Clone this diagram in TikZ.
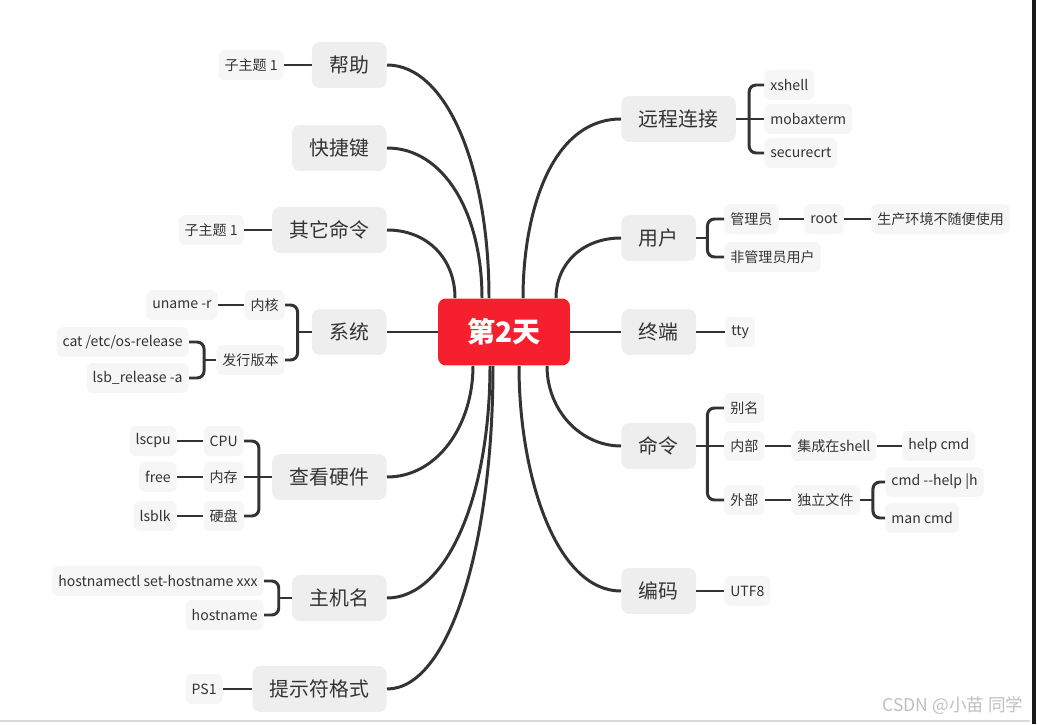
\documentclass[tikz,border=0pt]{standalone}
\usepackage{fontspec}
\setmainfont{Noto Sans CJK SC}
\usepackage{xcolor}
\usepackage{tikz}
\usetikzlibrary{positioning,calc}
\definecolor{rootred}{HTML}{F61F2E}
\definecolor{topicgray}{HTML}{EEEEEE}
\definecolor{subgray}{HTML}{F6F6F6}
\definecolor{ink}{HTML}{333333}
\tikzset{
  topic/.style={fill=topicgray,rounded corners=4.5pt,text=ink,font=\fontsize{11.3}{13}\selectfont,minimum height=0.92cm,inner xsep=0.35cm},
  sub/.style={fill=subgray,rounded corners=3.5pt,text=ink,font=\fontsize{8}{10}\selectfont,minimum height=0.6cm,inner xsep=0.12cm},
  rootbox/.style={fill=rootred,rounded corners=4.5pt,text=white,font=\fontsize{16}{19}\selectfont\bfseries,minimum width=2.64cm,minimum height=1.34cm},
  link/.style={draw=ink,line width=1.7pt},
  br/.style={link,rounded corners=4pt},
}

\begin{document}
\begin{tikzpicture}[x=0.02cm,y=0.02cm]
\useasboundingbox (0,0) rectangle (1037,724);
\draw[gray!30,line width=1pt] (0,3) -- (1030,3);
\draw[black!90,line width=2pt] (1034,0) -- (1034,724);
\node[text=gray!50,font=\fontsize{10}{12}\selectfont] (mark) at (953,18) {CSDN @小苗 同学};

% center
\node[rootbox] (day) at (504,392) {第2天};

% left topics
\node[topic,anchor=east] (help) at (387,659) {帮助};
\node[topic,anchor=east] (keys) at (387,576) {快捷键};
\node[topic,anchor=east] (othercmd) at (387,494) {其它命令};
\node[topic,anchor=east] (sys) at (387,392) {系统};
\node[topic,anchor=east] (hw) at (387,247) {查看硬件};
\node[topic,anchor=east] (host) at (387,126) {主机名};
\node[topic,anchor=east] (ps) at (387,35) {提示符格式};

% right topics
\node[topic,anchor=west] (remote) at (621,605) {远程连接};
\node[topic,anchor=west] (user) at (621,486) {用户};
\node[topic,anchor=west] (term) at (621,392) {终端};
\node[topic,anchor=west] (cmd) at (621,278) {命令};
\node[topic,anchor=west] (enc) at (621,133) {编码};

% main branches
\draw[link] ($(day.north)+(-15,0)$) .. controls +(0,130) and +(60,0) .. (help.east);
\draw[link] ($(day.north)+(-22,0)$) .. controls +(0,85) and +(57,0) .. (keys.east);
\draw[link] ($(day.north)+(-49,0)$) .. controls +(0,40) and +(40,0) .. (othercmd.east);
\draw[link] (day.west) -- (sys.east);
\draw[link] ($(day.south)+(-31,0)$) .. controls +(0,-60) and +(50,0) .. (hw.east);
\draw[link] ($(day.south)+(-14,0)$) .. controls +(0,-130) and +(60,0) .. (host.east);
\draw[link] ($(day.south)+(-11,0)$) .. controls +(0,-180) and +(62,0) .. (ps.east);
\draw[link] ($(day.north)+(19,0)$) .. controls +(0,85) and +(-70,0) .. (remote.west);
\draw[link] ($(day.north)+(52,0)$) .. controls +(0,35) and +(-38,0) .. (user.west);
\draw[link] (day.east) -- (term.west);
\draw[link] ($(day.south)+(43,0)$) .. controls +(0,-45) and +(-40,0) .. (cmd.west);
\draw[link] ($(day.south)+(15,0)$) .. controls +(0,-110) and +(-65,0) .. (enc.west);

% left details
\node[sub,anchor=east] (help1) at (284,659) {子主题 1};
\draw[link] (help1.east) -- (help.west);
\node[sub,anchor=east] (other1) at (244,494) {子主题 1};
\draw[link] (other1.east) -- (othercmd.west);

\node[sub,anchor=east] (kernel) at (285,419) {内核};
\node[sub,anchor=east] (release) at (285,364) {发行版本};
\coordinate (sysb) at ($(sys.west)+(-14,0)$);
\draw[br] (kernel.east) -| (sysb) |- (release.east);
\draw[link] (sys.west) -- (sysb);
\node[sub,anchor=east] (uname) at (218,419) {uname -r};
\draw[link] (uname.east) -- (kernel.west);
\node[sub,anchor=east] (osrel) at (189,382) {cat /etc/os-release};
\node[sub,anchor=east] (lsb) at (189,346) {lsb\_release -a};
\coordinate (relb) at ($(release.west)+(-12,0)$);
\draw[br] (osrel.east) -| (relb) |- (lsb.east);
\draw[link] (release.west) -- (relb);

\node[sub,anchor=east] (cpu) at (244,283) {CPU};
\node[sub,anchor=east] (mem) at (244,247) {内存};
\node[sub,anchor=east] (disk) at (244,208) {硬盘};
\coordinate (hwb) at ($(hw.west)+(-13,0)$);
\draw[br] (cpu.east) -| (hwb) |- (disk.east);
\draw[link] (hw.west) -- (mem.east);
\node[sub,anchor=east] (lscpu) at (177,283) {lscpu};
\node[sub,anchor=east] (free) at (177,247) {free};
\node[sub,anchor=east] (lsblk) at (177,208) {lsblk};
\draw[link] (lscpu.east) -- (cpu.west);
\draw[link] (free.east) -- (mem.west);
\draw[link] (lsblk.east) -- (disk.west);

\node[sub,anchor=east] (hostctl) at (264,143) {hostnamectl set-hostname xxx};
\node[sub,anchor=east] (hostname) at (264,109) {hostname};
\coordinate (hostb) at ($(host.west)+(-13,0)$);
\draw[br] (hostctl.east) -| (hostb) |- (hostname.east);
\draw[link] (host.west) -- (hostb);

\node[sub,anchor=east] (ps1) at (223,35) {PS1};
\draw[link] (ps1.east) -- (ps.west);

% right details
\node[sub,anchor=west] (xshell) at (764,639) {xshell};
\node[sub,anchor=west] (mobax) at (764,605) {mobaxterm};
\node[sub,anchor=west] (securecrt) at (764,571) {securecrt};
\coordinate (remb) at ($(remote.east)+(13,0)$);
\draw[br] (xshell.west) -| (remb) |- (securecrt.west);
\draw[link] (remote.east) -- (mobax.west);

\node[sub,anchor=west] (admin) at (724,505) {管理员};
\node[sub,anchor=west] (nonadmin) at (724,467) {非管理员用户};
\coordinate (userb) at ($(user.east)+(11,0)$);
\draw[br] (admin.west) -| (userb) |- (nonadmin.west);
\draw[link] (user.east) -- (userb);
\node[sub,anchor=west] (rootuser) at (804,505) {root};
\node[sub,anchor=west] (prod) at (871,505) {生产环境不随便使用};
\draw[link] (admin.east) -- (rootuser.west);
\draw[link] (rootuser.east) -- (prod.west);

\node[sub,anchor=west] (tty) at (725,392) {tty};
\draw[link] (term.east) -- (tty.west);

\node[sub,anchor=west] (alias) at (724,316) {别名};
\node[sub,anchor=west] (inner) at (724,278) {内部};
\node[sub,anchor=west] (outer) at (724,224) {外部};
\coordinate (cmdb) at ($(cmd.east)+(11,0)$);
\draw[br] (alias.west) -| (cmdb) |- (outer.west);
\draw[link] (cmd.east) -- (inner.west);
\node[sub,anchor=west] (builtin) at (791,278) {集成在shell};
\node[sub,anchor=west] (helpcmd) at (902,278) {help cmd};
\draw[link] (inner.east) -- (builtin.west);
\draw[link] (builtin.east) -- (helpcmd.west);
\node[sub,anchor=west] (standalone) at (791,224) {独立文件};
\draw[link] (outer.east) -- (standalone.west);
\node[sub,anchor=west] (cmdhelp) at (885,242) {cmd -{}-help |h};
\node[sub,anchor=west] (man) at (885,206) {man cmd};
\coordinate (stb) at ($(standalone.east)+(13,0)$);
\draw[br] (cmdhelp.west) -| (stb) |- (man.west);
\draw[link] (standalone.east) -- (stb);

\node[sub,anchor=west] (utf) at (724,133) {UTF8};
\draw[link] (enc.east) -- (utf.west);
\end{tikzpicture}
\end{document}
